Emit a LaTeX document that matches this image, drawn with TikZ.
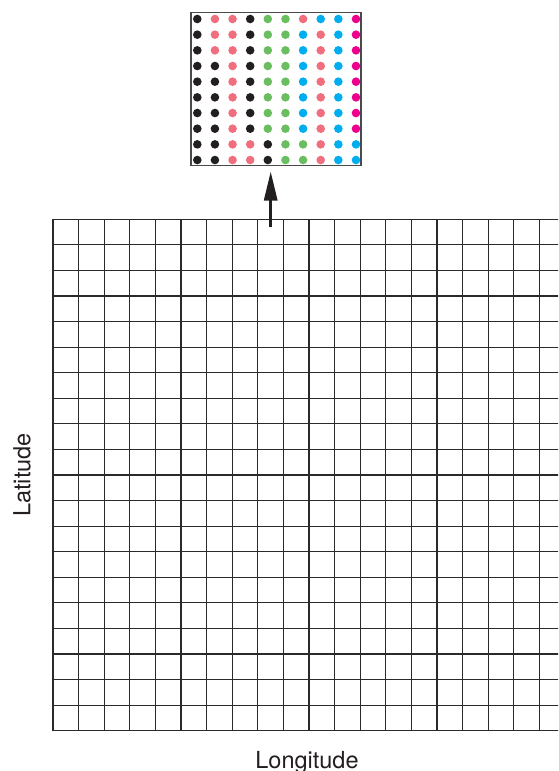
\documentclass[tikz,border=0pt]{standalone}
\usepackage{fontspec}
\setmainfont{TeX Gyre Heros}
\usetikzlibrary{arrows.meta}
\definecolor{cK}{HTML}{231F20}
\definecolor{cP}{HTML}{F06E7E}
\definecolor{cG}{HTML}{6BBE5F}
\definecolor{cB}{HTML}{00AEEF}
\definecolor{cM}{HTML}{EC008C}
\definecolor{gridc}{HTML}{2A2A2A}
\tikzset{
  gridline/.style={draw=gridc, line width=1.25pt},
  boxline/.style={draw=gridc!85, line width=1.3pt},
  dotmark/.style={circle, inner sep=0pt, minimum size=8.6pt},
  axislabel/.style={font=\fontsize{23.5}{28}\selectfont, text=cK, inner sep=0pt},
  uparrow/.style={draw=cK, line width=3pt, -{Triangle[length=29pt,width=13pt]}}
}
\begin{document}
\begin{tikzpicture}[x=1pt,y=-1pt]
\useasboundingbox (0,0) rectangle (558,771);
% grid
\begin{scope}
\clip (0,0) rectangle (558,771);
\foreach \k in {0,...,19}{
  \draw[gridline] ({53+\k*25.6},219.3) -- ({53+\k*25.6},730.7);
}
\foreach \j in {0,...,20}{
  \draw[gridline] (53,{219.3+\j*25.57}) -- (570,{219.3+\j*25.57});
}
\end{scope}
% dot box
\node[boxline, rectangle, minimum width=170pt, minimum height=153.4pt, inner sep=0pt] (box) at (276,89) {};
\foreach \row [count=\j from 0] in {
  {cK,cP,cP,cK,cG,cG,cP,cB,cB,cM},
  {cK,cP,cP,cK,cG,cG,cB,cP,cB,cM},
  {cK,cP,cP,cK,cG,cG,cB,cP,cB,cM},
  {cK,cK,cP,cK,cG,cG,cB,cP,cB,cM},
  {cK,cK,cP,cK,cG,cG,cB,cP,cB,cM},
  {cK,cK,cP,cK,cG,cG,cB,cP,cB,cM},
  {cK,cK,cP,cK,cG,cG,cB,cP,cB,cM},
  {cK,cK,cP,cK,cG,cG,cB,cP,cB,cM},
  {cK,cK,cP,cP,cK,cG,cG,cP,cB,cB},
  {cK,cK,cP,cP,cK,cG,cG,cP,cB,cB}}{
  \foreach \c [count=\i from 0] in \row {
    \node[dotmark, fill=\c] (d-\i-\j) at ({197.3+\i*17.63},{19+\j*15.67}) {};
  }
}
% arrow
\coordinate (astart) at (270.7,227);
\coordinate (aend) at (270.7,171.5);
\draw[uparrow] (astart) -- (aend);
% labels
\node[axislabel, anchor=base] (lon) at (307,768) {Longitude};
\node[axislabel, anchor=base, rotate=90] (lat) at (30.5,475) {Latitude};
\end{tikzpicture}
\end{document}
